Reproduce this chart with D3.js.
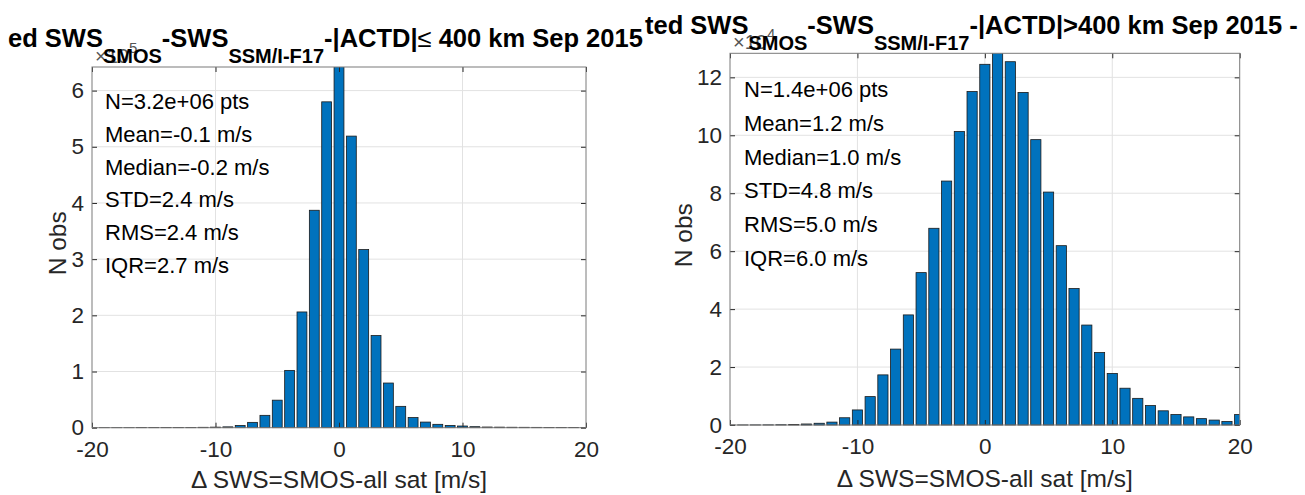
<!DOCTYPE html>
<html><head><meta charset="utf-8">
<script src="https://cdn.jsdelivr.net/npm/d3@7"></script>
<style>html,body{margin:0;padding:0;background:#fff;overflow:hidden}</style>
</head><body><svg id="c" width="1305" height="495" xmlns="http://www.w3.org/2000/svg"></svg>
<script>
// Bin centres (m/s)
const binCenters = [-20,-19,-18,-17,-16,-15,-14,-13,-12,-11,-10,-9,-8,-7,-6,-5,-4,-3,-2,-1,0,1,2,3,4,5,6,7,8,9,10,11,12,13,14,15,16,17,18,19,20];
// |ACTD| <= 400 km, counts x 10^5
const nearCounts = [0.001,0.001,0.001,0.001,0.002,0.002,0.003,0.004,0.005,0.007,0.010,0.015,0.040,0.095,0.22,0.49,1.02,2.06,3.87,5.80,6.45,5.19,3.17,1.64,0.795,0.38,0.18,0.10,0.06,0.04,0.03,0.018,0.012,0.010,0.008,0.007,0.006,0.005,0.005,0.004,0.004];
// |ACTD| > 400 km, counts x 10^4
const farCounts = [0.001,0.002,0.003,0.005,0.010,0.020,0.035,0.06,0.10,0.25,0.52,0.98,1.73,2.62,3.80,5.26,6.79,8.42,10.13,11.51,12.45,12.90,12.54,11.48,9.85,8.04,6.19,4.71,3.45,2.50,1.78,1.27,0.92,0.67,0.49,0.36,0.28,0.22,0.17,0.12,0.36];
const xTicks = [-20,-10,0,10,20];
const nearYTicks = [0,1,2,3,4,5,6];
const farYTicks = [0,2,4,6,8,10,12];
const nearYMax = 6.42;
const farYMax = 12.83;
const nearStats = ["N=3.2e+06 pts","Mean=-0.1 m/s","Median=-0.2 m/s","STD=2.4 m/s","RMS=2.4 m/s","IQR=2.7 m/s"];
const farStats = ["N=1.4e+06 pts","Mean=1.2 m/s","Median=1.0 m/s","STD=4.8 m/s","RMS=5.0 m/s","IQR=6.0 m/s"];
const xLabel = "\u0394 SWS=SMOS-all sat [m/s]";
const yLabel = "N obs";
const nearTitle = [["ed SWS","main"],["SMOS","sub"],["-SWS","main"],["SSM/I-F17","sub"],["-|ACTD|","main"],["\u2264","sym"],[" 400 km Sep 2015","main"]];
const farTitle = [["ted SWS","main"],["SMOS","sub"],["-SWS","main"],["SSM/I-F17","sub"],["-|ACTD|>400 km Sep 2015 - ","main"]];
const nearExp = "5";
const farExp = "4";

const svg = d3.select("#c");
const FONT = "'Liberation Sans', Arial, Helvetica, sans-serif";
const AX = "#262626";

function panel(cfg) {
  const g = svg.append("g");
  const x = d3.scaleLinear().domain([-20, 20]).range([cfg.x0, cfg.x1]);
  const y = d3.scaleLinear().domain([0, cfg.ymax]).range([cfg.y0, cfg.y1]);

  // grid
  g.append("g").selectAll("line").data(xTicks.slice(1, -1)).join("line")
    .attr("x1", d => x(d)).attr("x2", d => x(d)).attr("y1", cfg.y0).attr("y2", cfg.y1)
    .attr("stroke", "#e2e2e2").attr("stroke-width", 1);
  g.append("g").selectAll("line").data(cfg.yTicks.slice(1)).join("line")
    .attr("x1", cfg.x0).attr("x2", cfg.x1).attr("y1", d => y(d)).attr("y2", d => y(d))
    .attr("stroke", "#e2e2e2").attr("stroke-width", 1);

  // bars
  const cid = "clip" + cfg.id;
  svg.append("defs").append("clipPath").attr("id", cid).append("rect")
    .attr("x", cfg.x0).attr("y", cfg.y1).attr("width", cfg.x1 - cfg.x0).attr("height", cfg.y0 - cfg.y1 + 1);
  g.append("g").attr("clip-path", `url(#${cid})`).selectAll("rect")
    .data(binCenters.map((c, i) => ({c, v: cfg.values[i]}))).join("rect")
    .attr("x", d => x(d.c - 0.4)).attr("width", d => x(d.c + 0.4) - x(d.c - 0.4))
    .attr("y", d => y(d.v)).attr("height", d => y(0) - y(d.v))
    .attr("fill", "#0072BD").attr("stroke", "#1a1a1a").attr("stroke-width", 0.8);

  // axes
  const fmt = d => String(d);
  const styleAxis = sel => {
    sel.select(".domain").remove();
    sel.selectAll(".tick line").attr("stroke", AX);
    sel.selectAll("text").attr("fill", AX).style("font-family", FONT).style("font-size", "22.5px");
  };
  g.append("g").attr("transform", `translate(0,${cfg.y0})`)
    .call(d3.axisBottom(x).tickValues(xTicks).tickSize(-5).tickPadding(13).tickFormat(fmt)).call(styleAxis);
  g.append("g").attr("transform", `translate(0,${cfg.y1})`)
    .call(d3.axisTop(x).tickValues(xTicks).tickSize(-5).tickFormat("")).call(styleAxis);
  g.append("g").attr("transform", `translate(${cfg.x0},0)`)
    .call(d3.axisLeft(y).tickValues(cfg.yTicks).tickSize(-5).tickPadding(8).tickFormat(fmt)).call(styleAxis);
  g.append("g").attr("transform", `translate(${cfg.x1},0)`)
    .call(d3.axisRight(y).tickValues(cfg.yTicks).tickSize(-5).tickFormat("")).call(styleAxis);

  // box
  g.append("rect").attr("x", cfg.x0).attr("y", cfg.y1).attr("width", cfg.x1 - cfg.x0).attr("height", cfg.y0 - cfg.y1)
    .attr("fill", "none").attr("stroke", "#7a7a7a").attr("stroke-width", 1);

  // stats text
  g.append("g").selectAll("text").data(cfg.stats).join("text")
    .attr("x", cfg.statX).attr("y", (d, i) => cfg.statY + i * cfg.statStep)
    .attr("font-family", FONT).attr("font-size", 22).attr("fill", "#000").text(d => d);

  // labels
  g.append("text").attr("x", (cfg.x0 + cfg.x1) / 2).attr("y", cfg.xLabelY).attr("text-anchor", "middle")
    .attr("font-family", FONT).attr("font-size", 24.5).attr("fill", AX).text(xLabel);
  g.append("text").attr("transform", `translate(${cfg.yLabelX},${(cfg.y0 + cfg.y1) / 2 - 4}) rotate(-90)`)
    .attr("text-anchor", "middle").attr("font-family", FONT).attr("font-size", 24.5).attr("fill", AX).text(yLabel);

  // exponent label
  const ex = g.append("text").attr("x", cfg.x0 + 3).attr("y", cfg.y1 - 4)
    .attr("font-family", FONT).attr("font-size", 20).attr("fill", "#555");
  ex.append("tspan").text("\u00d710");
  ex.append("tspan").attr("dy", -10).attr("font-size", 15).text(cfg.exp);

  // title
  const t = svg.append("text").attr("x", cfg.titleX).attr("y", cfg.titleY)
    .attr("font-family", FONT).attr("font-weight", "bold").attr("fill", "#000");
  let level = 0;
  cfg.title.forEach(([s, kind]) => {
    const target = kind === "sub" ? 16 : 0;
    const ts = t.append("tspan").attr("dy", target - level).text(s);
    level = target;
    if (kind === "sub") ts.attr("font-size", 20);
    else if (kind === "sym") ts.attr("font-size", 25.5).attr("font-weight", "normal");
    else ts.attr("font-size", 25.5);
  });
}

panel({id: "a", x0: 92, x1: 586, y0: 427.7, y1: 67, ymax: nearYMax, yTicks: nearYTicks, values: nearCounts,
  stats: nearStats, statX: 105, statY: 109.3, statStep: 32.7, xLabelY: 488, yLabelX: 66, exp: nearExp,
  title: nearTitle, titleX: 8, titleY: 46.5});
panel({id: "b", x0: 730, x1: 1239.7, y0: 425, y1: 53.3, ymax: farYMax, yTicks: farYTicks, values: farCounts,
  stats: farStats, statX: 744, statY: 97.3, statStep: 33.7, xLabelY: 487, yLabelX: 692, exp: farExp,
  title: farTitle, titleX: 645, titleY: 34});
</script></body></html>
